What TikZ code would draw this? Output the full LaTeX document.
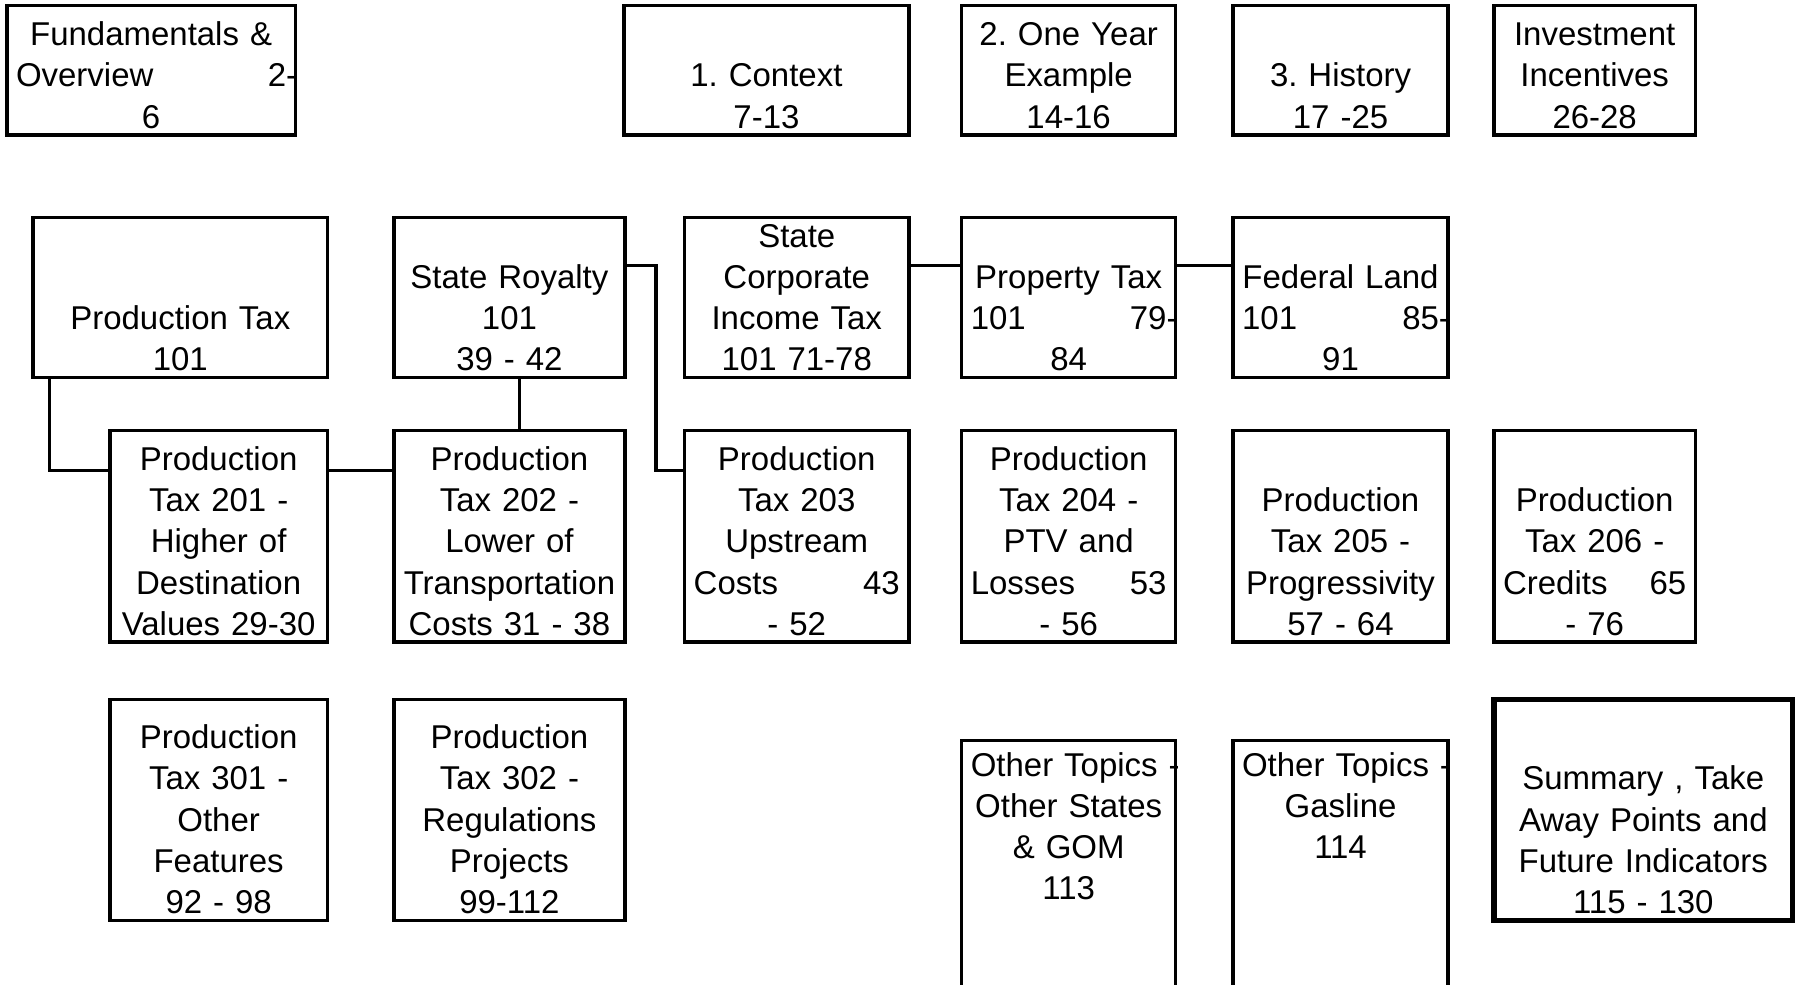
\documentclass[tikz,border=0pt]{standalone}
\usepackage{fontspec}
\setmainfont{Liberation Sans}
\frenchspacing
\tikzset{
  bx/.style={draw, line width=1.5pt, inner sep=0pt, outer sep=0pt},
  tx/.style={inner sep=0pt, outer sep=0pt, align=center, font=\fontsize{14.4pt}{18pt}\selectfont\frenchspacing, anchor=base},
  ln/.style={line width=1.5pt},
}
% name, x1, y1, x2, y2, first baseline, text
\newcommand\boxat[8][]{%
  \pgfmathsetmacro\mybw{(#5-#3)*0.5}%
  \pgfmathsetmacro\mybh{(#6-#4)*0.5}%
  \pgfmathsetmacro\mytw{(#5-#3-16)*0.5}%
  \node[bx,#1,minimum width=\mybw pt,minimum height=\mybh pt] (#2) at ({(#3+#5)/2},{(#4+#6)/2}) {};
  \node[tx,text width=\mytw pt] (#2t) at ({(#3+#5)/2},{#7+2}) {#8};
}
\newcommand\spr[2]{\makebox[\linewidth][s]{#1\hfill #2}}
\begin{document}
\begin{tikzpicture}[x=0.5pt,y=-0.5pt]
\useasboundingbox (0,0) rectangle (1568,860);
\fill[white] (0,0) rectangle (1568,860);
\clip (0,0) rectangle (1568,860);
% row 1
\boxat{fund}{6}{5}{258}{118}{38}{Fundamentals \&\\\spr{Overview}{2\rlap{-}}\\6}
\boxat{ctx}{545}{5}{794}{118}{74}{1. Context\\7-13}
\boxat{oneyear}{840}{5}{1027}{118}{38}{2. One Year\\Example\\14-16}
\boxat{hist}{1077}{5}{1265}{118}{74}{3. History\\17 -25}
\boxat{invest}{1305}{5}{1481}{118}{38}{Investment\\Incentives\\26-28}
% row 2
\boxat{prodtax}{29}{190}{286}{330}{286}{Production Tax\\101}
\boxat{royalty}{344}{190}{546}{330}{250}{State Royalty\\101\\39 - 42}
\boxat{corp}{598}{190}{794}{330}{214}{State\\Corporate\\Income Tax\\101 71-78}
\boxat{prop}{840}{190}{1027}{330}{250}{Property Tax\\\spr{101}{79\rlap{-}}\\84}
\boxat{fed}{1077}{190}{1265}{330}{250}{Federal Land\\\spr{101}{85\rlap{-}}\\91}
% row 3
\boxat{pta}{96}{376}{286}{561}{409}{Production\\Tax 201 -\\Higher of\\Destination\\Values 29-30}
\boxat{ptb}{344}{376}{546}{561}{409}{Production\\Tax 202 -\\Lower of\\Transportation\\Costs 31 - 38}
\boxat{ptc}{598}{376}{794}{561}{409}{Production\\Tax 203\\Upstream\\\spr{Costs}{43}\\- 52}
\boxat{ptd}{840}{376}{1027}{561}{409}{Production\\Tax 204 -\\PTV and\\\spr{Losses}{53}\\- 56}
\boxat{pte}{1077}{376}{1265}{561}{445}{Production\\Tax 205 -\\Progressivity\\57 - 64}
\boxat{ptf}{1305}{376}{1481}{561}{445}{Production\\Tax 206 -\\\spr{Credits}{65}\\- 76}
% row 4
\boxat{ptg}{96}{611}{286}{804}{652}{Production\\Tax 301 -\\Other\\Features\\92 - 98}
\boxat{pth}{344}{611}{546}{804}{652}{Production\\Tax 302 -\\Regulations\\Projects\\99-112}
\boxat{othera}{840}{647}{1027}{920}{676}{\makebox[\linewidth][l]{Other Topics\rlap{ -}}\\Other States\\\& GOM\\113}
\boxat{otherb}{1077}{647}{1265}{920}{676}{\makebox[\linewidth][l]{Other Topics\rlap{ -}}\\Gasline\\114}
\boxat[line width=2.5pt]{summ}{1305}{611}{1566}{804}{688}{Summary , Take\\Away Points and\\Future Indicators\\115 - 130}
% connectors
\draw[ln] ([xshift=7pt]prodtax.south west) |- ([yshift=-17.5pt]pta.north west);
\draw[ln] ([yshift=-17.5pt]pta.north east) -- ([yshift=-17.5pt]ptb.north west);
\draw[ln] ([xshift=4.5pt]royalty.south) -- ([xshift=4.5pt]ptb.north);
\draw[ln] ([yshift=-21pt]royalty.north east) -- ++(13.5pt,0) |- ([yshift=-17.5pt]ptc.north west);
\draw[ln] ([yshift=-21pt]corp.north east) -- ([yshift=-21pt]prop.north west);
\draw[ln] ([yshift=-21pt]prop.north east) -- ([yshift=-21pt]fed.north west);
\end{tikzpicture}
\end{document}
